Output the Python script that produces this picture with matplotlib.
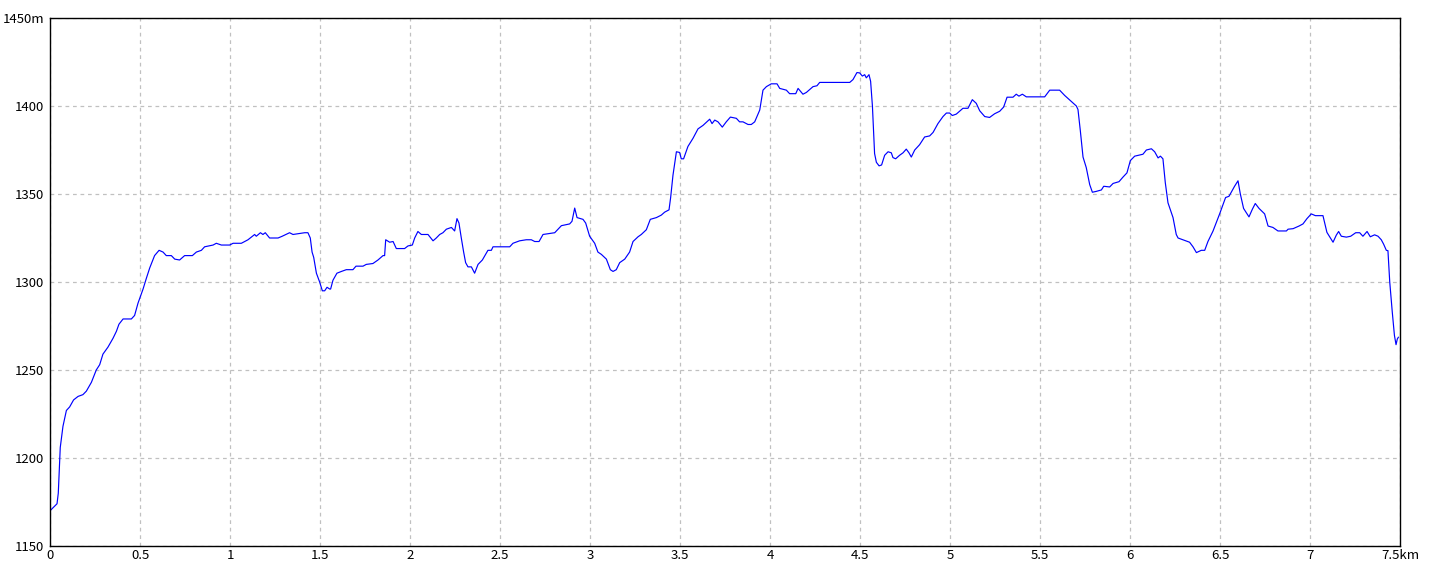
import matplotlib
matplotlib.use("Agg")
import matplotlib.pyplot as plt

plt.rcParams['font.family'] = ['Noto Sans CJK JP', 'DejaVu Sans']

distance_km = [
    0.0, 0.039, 0.046, 0.057, 0.072, 0.091, 0.109, 0.131, 0.156, 0.183, 0.202, 0.23, 0.257, 0.276,
    0.294, 0.322, 0.35, 0.369, 0.383, 0.406, 0.452, 0.47, 0.489, 0.517, 0.535, 0.554, 0.581, 0.606,
    0.628, 0.646, 0.674, 0.693, 0.72, 0.748, 0.767, 0.791, 0.813, 0.841, 0.859, 0.906, 0.924, 0.952,
    0.998, 1.017, 1.063, 1.1, 1.137, 1.146, 1.169, 1.183, 1.196, 1.22, 1.267, 1.29, 1.331, 1.35,
    1.415, 1.433, 1.446, 1.456, 1.465, 1.48, 1.498, 1.513, 1.526, 1.539, 1.554, 1.559, 1.572, 1.594,
    1.619, 1.646, 1.683, 1.70, 1.739, 1.757, 1.794, 1.822, 1.85, 1.859, 1.865, 1.887, 1.906, 1.924,
    1.97, 1.989, 2.013, 2.026, 2.044, 2.063, 2.1, 2.128, 2.146, 2.165, 2.183, 2.202, 2.23, 2.248,
    2.261, 2.272, 2.285, 2.298, 2.309, 2.322, 2.341, 2.359, 2.378, 2.402, 2.433, 2.452, 2.461, 2.526,
    2.554, 2.572, 2.609, 2.646, 2.674, 2.693, 2.717, 2.739, 2.804, 2.841, 2.887, 2.9, 2.915, 2.928,
    2.961, 2.976, 2.998, 3.026, 3.044, 3.063, 3.091, 3.113, 3.128, 3.146, 3.165, 3.193, 3.22, 3.239,
    3.267, 3.285, 3.313, 3.335, 3.369, 3.396, 3.415, 3.439, 3.448, 3.461, 3.48, 3.498, 3.507, 3.52,
    3.544, 3.572, 3.6, 3.628, 3.665, 3.678, 3.693, 3.711, 3.735, 3.757, 3.78, 3.813, 3.831, 3.85,
    3.878, 3.896, 3.915, 3.943, 3.961, 3.98, 4.007, 4.039, 4.054, 4.091, 4.109, 4.143, 4.156, 4.183,
    4.202, 4.239, 4.261, 4.276, 4.443, 4.461, 4.483, 4.498, 4.513, 4.526, 4.535, 4.55, 4.559, 4.569,
    4.581, 4.591, 4.606, 4.62, 4.637, 4.656, 4.674, 4.683, 4.698, 4.72, 4.739, 4.757, 4.772, 4.785,
    4.804, 4.831, 4.859, 4.887, 4.906, 4.933, 4.961, 4.98, 4.998, 5.013, 5.035, 5.072, 5.1, 5.124,
    5.146, 5.165, 5.193, 5.22, 5.248, 5.276, 5.298, 5.317, 5.35, 5.368, 5.383, 5.402, 5.424, 5.526,
    5.554, 5.609, 5.637, 5.702, 5.711, 5.724, 5.739, 5.757, 5.776, 5.791, 5.813, 5.841, 5.854, 5.887,
    5.906, 5.939, 5.961, 5.983, 6.002, 6.026, 6.072, 6.091, 6.119, 6.137, 6.156, 6.169, 6.183, 6.196,
    6.211, 6.239, 6.257, 6.267, 6.294, 6.331, 6.35, 6.369, 6.396, 6.415, 6.433, 6.461, 6.498, 6.531,
    6.55, 6.581, 6.6, 6.613, 6.631, 6.661, 6.68, 6.696, 6.717, 6.748, 6.767, 6.794, 6.822, 6.869,
    6.878, 6.906, 6.939, 6.961, 6.983, 7.007, 7.03, 7.072, 7.094, 7.128, 7.146, 7.159, 7.174, 7.202,
    7.226, 7.254, 7.276, 7.294, 7.317, 7.335, 7.359, 7.378, 7.396, 7.409, 7.424, 7.433, 7.443, 7.457,
    7.469, 7.478, 7.485, 7.491,
]

elevation_m = [
    1170, 1174, 1180, 1206, 1218, 1227, 1229, 1233, 1235, 1236, 1238, 1243, 1250, 1253,
    1259, 1263, 1268, 1272, 1276, 1279, 1279, 1281, 1288, 1296, 1302, 1308, 1315, 1318,
    1317, 1315, 1315, 1313, 1312.5, 1315, 1315, 1315, 1317, 1318, 1320, 1321, 1322, 1321,
    1321, 1322, 1322, 1324, 1327, 1326, 1328, 1327, 1328, 1325, 1325, 1326, 1328, 1327,
    1328, 1328, 1325, 1317, 1314, 1305, 1300, 1295, 1295, 1297, 1296, 1296, 1301, 1305,
    1306, 1307, 1307, 1309, 1309, 1310, 1310.5, 1312.5, 1315, 1315, 1324, 1322.6, 1323, 1319,
    1319, 1320.5, 1321, 1325, 1328.7, 1327, 1327, 1323.4, 1325, 1327, 1328, 1330, 1331, 1329,
    1336, 1333.5, 1325, 1317, 1311, 1308.6, 1308.6, 1305, 1310, 1312.5, 1318, 1318, 1320, 1320,
    1320, 1322, 1323.4, 1324, 1324, 1323, 1323, 1327, 1328, 1332, 1333, 1334.5, 1342, 1336.6,
    1335.6, 1333.5, 1326, 1322, 1317, 1315.7, 1313, 1307, 1306, 1307, 1311, 1313, 1317, 1323,
    1325.7, 1327, 1329.7, 1335.6, 1336.6, 1338, 1339.7, 1341, 1348, 1360.7, 1374, 1373.6, 1370, 1370,
    1377, 1381.6, 1387, 1389, 1392.5, 1390, 1392, 1391, 1388, 1391, 1393.7, 1393, 1391, 1391,
    1389.5, 1389.5, 1391, 1397.7, 1409, 1411, 1412.6, 1412.6, 1410, 1409, 1407, 1407, 1410, 1406.7,
    1407.7, 1411, 1411.5, 1413.4, 1413.4, 1415, 1419, 1418.8, 1417, 1417.8, 1416, 1417.8, 1414, 1400,
    1373, 1368, 1366, 1366.5, 1372, 1374, 1373.4, 1370.7, 1370, 1372, 1373.4, 1375.5, 1373.4, 1371,
    1375, 1378, 1382.4, 1383, 1385, 1390, 1394, 1396, 1396, 1394.6, 1395.4, 1398.7, 1398.7, 1403.6,
    1401.5, 1397.3, 1394, 1393.5, 1395.6, 1397, 1399.4, 1405, 1405, 1406.7, 1405.6, 1406.7, 1405.2, 1405.2,
    1409, 1409, 1406, 1400, 1398, 1386, 1371, 1365, 1355.4, 1351, 1351.5, 1352.3, 1354.4, 1354,
    1356, 1357, 1359.6, 1362, 1369, 1371.5, 1372.6, 1375, 1375.7, 1374, 1370.5, 1371.5, 1370, 1356.5,
    1345, 1336.6, 1327, 1325, 1324, 1322.6, 1320, 1316.7, 1318, 1318, 1323, 1328.9, 1338.7, 1348,
    1348.7, 1354.4, 1357.5, 1350, 1341.8, 1337, 1341.4, 1344.6, 1341.8, 1338.7, 1331.8, 1331, 1329, 1329,
    1330, 1330.3, 1331.8, 1333, 1336, 1338.7, 1337.7, 1337.7, 1328.2, 1322.6, 1326.6, 1328.7, 1326, 1325.5,
    1326, 1328, 1328, 1326, 1328.7, 1325.7, 1326.8, 1326, 1324, 1321.5, 1318, 1317.8, 1300, 1283,
    1269.7, 1264.4, 1267.6, 1268.6,
]

x_ticks = [0, 0.5, 1, 1.5, 2, 2.5, 3, 3.5, 4, 4.5, 5, 5.5, 6, 6.5, 7, 7.5]
x_tick_labels = ["0", "0.5", "1", "1.5", "2", "2.5", "3", "3.5", "4", "4.5",
                 "5", "5.5", "6", "6.5", "7", "7.5km"]
y_ticks = [1150, 1200, 1250, 1300, 1350, 1400, 1450]
y_tick_labels = ["1150", "1200", "1250", "1300", "1350", "1400", "1450m"]

fig = plt.figure(figsize=(14.4, 5.76), dpi=100)
ax = fig.add_axes([50 / 1440, 1 - 546 / 576, 1350 / 1440, 528 / 576])

ax.plot(distance_km, elevation_m, color="#0000ff", linewidth=0.85)

ax.set_xlim(0, 7.5)
ax.set_ylim(1150, 1450)
ax.set_xticks(x_ticks)
ax.set_xticklabels(x_tick_labels)
ax.set_yticks(y_ticks)
ax.set_yticklabels(y_tick_labels)
ax.tick_params(axis="both", length=0, labelsize=9.5, colors="black")
ax.tick_params(axis="x", pad=2)
ax.tick_params(axis="y", pad=4)

ax.grid(True, color="#c0c0c0", linestyle=(0, (3, 3)), linewidth=0.9)
ax.set_axisbelow(True)
for s in ax.spines.values():
    s.set_color("black")
    s.set_linewidth(1.0)

fig.savefig("out.png", dpi=100, facecolor="white")
